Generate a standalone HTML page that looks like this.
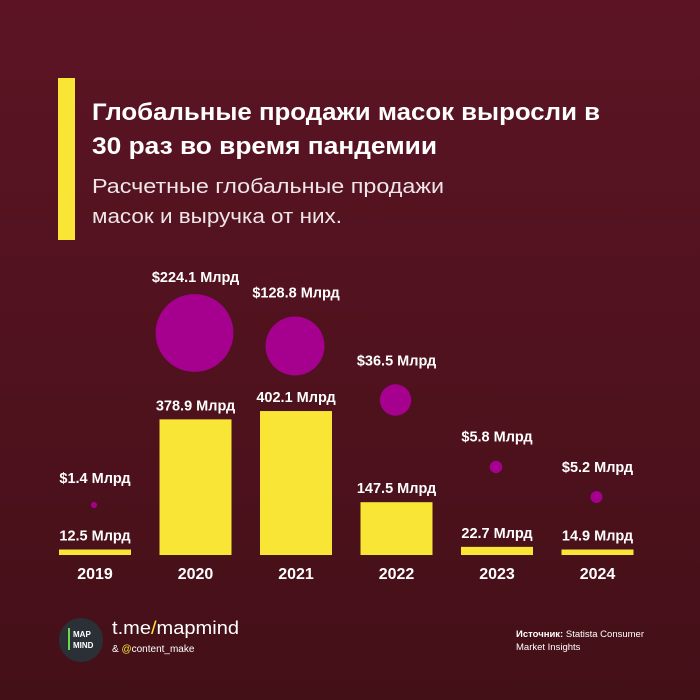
<!DOCTYPE html>
<html><head><meta charset="utf-8"><style>
body{margin:0;width:700px;height:700px;overflow:hidden;background:linear-gradient(#5c1424,#441018);font-family:"Liberation Sans","DejaVu Sans",sans-serif;}
svg{display:block}
</style></head><body>
<svg width="700" height="700">
<rect x="58" y="78" width="17" height="162" fill="#f9e536"/>
<text x="92" y="120" font-size="24" font-weight="bold" fill="#fff" textLength="508" lengthAdjust="spacingAndGlyphs">Глобальные продажи масок выросли в</text>
<text x="92" y="154" font-size="24" font-weight="bold" fill="#fff" textLength="345" lengthAdjust="spacingAndGlyphs">30 раз во время пандемии</text>
<text x="92" y="193" font-size="20" fill="#f0e6e8" textLength="352" lengthAdjust="spacingAndGlyphs">Расчетные глобальные продажи</text>
<text x="92" y="223" font-size="20" fill="#f0e6e8" textLength="250" lengthAdjust="spacingAndGlyphs">масок и выручка от них.</text>
<g id="chart"></g>
<circle cx="81" cy="640" r="22" fill="#2a3036"/>
<rect x="68" y="628" width="2" height="22" fill="#6bd94a"/>
<text x="73" y="637" font-size="8" font-weight="bold" fill="#fff">MAP</text>
<text x="73" y="648" font-size="8" font-weight="bold" fill="#fff">MIND</text>
<text x="112" y="634" font-size="18" fill="#fff" textLength="127" lengthAdjust="spacingAndGlyphs">t.me<tspan fill="#f9e536">/</tspan>mapmind</text>
<text x="112" y="652" font-size="10" fill="#fff">&amp; <tspan fill="#f9e536">@</tspan>content_make</text>
<text x="516" y="637" font-size="9.5" fill="#fff"><tspan font-weight="bold">Источник:</tspan> Statista Consumer</text>
<text x="516" y="650" font-size="9.5" fill="#fff">Market Insights</text>
</svg>
<script>
const years=["2019","2020","2021","2022","2023","2024"];
const units=[12.5,378.9,402.1,147.5,22.7,14.9];
const revenue=[1.4,224.1,128.8,36.5,5.8,5.2];
const unitLabels=["12.5 Млрд","378.9 Млрд","402.1 Млрд","147.5 Млрд","22.7 Млрд","14.9 Млрд"];
const revLabels=["$1.4 Млрд","$224.1 Млрд","$128.8 Млрд","$36.5 Млрд","$5.8 Млрд","$5.2 Млрд"];
const circleY=[505,333,346,400,467,497];
const NS="http://www.w3.org/2000/svg";
const g=document.getElementById('chart');
const base=555;
const x=i=>95+i*100.5;
const h=v=>v*0.358;
const r=v=>2.6*Math.sqrt(v);
function mk(t,a){const e=document.createElementNS(NS,t);for(const k in a)e.setAttribute(k,a[k]);g.appendChild(e);return e;}
years.forEach((yr,i)=>{
  const bh=Math.max(h(units[i]),5.5);
  const b=mk('rect',{x:x(i)-36,y:base-bh,width:72,height:bh,fill:'#f9e536'});
  
  
  const ul=mk('text',{x:x(i),y:base-bh-9,'font-size':14.5,'font-weight':'bold',fill:'#fff','text-anchor':'middle'});
  ul.textContent=unitLabels[i];
  
  
  const yl=mk('text',{x:x(i),y:base+24,'font-size':16,'font-weight':'bold',fill:'#fff','text-anchor':'middle'});
  yl.textContent=yr;
  
  
  const rr=r(revenue[i]);
  const c=mk('circle',{cx:x(i)-1,cy:circleY[i],r:rr,fill:'#a5008e'});
  
  
  const rl=mk('text',{x:x(i),y:circleY[i]-rr-(i==1?12:19),'font-size':14.5,'font-weight':'bold',fill:'#fff','text-anchor':'middle'});
  rl.textContent=revLabels[i];
  
  
});
</script>
</body></html>
